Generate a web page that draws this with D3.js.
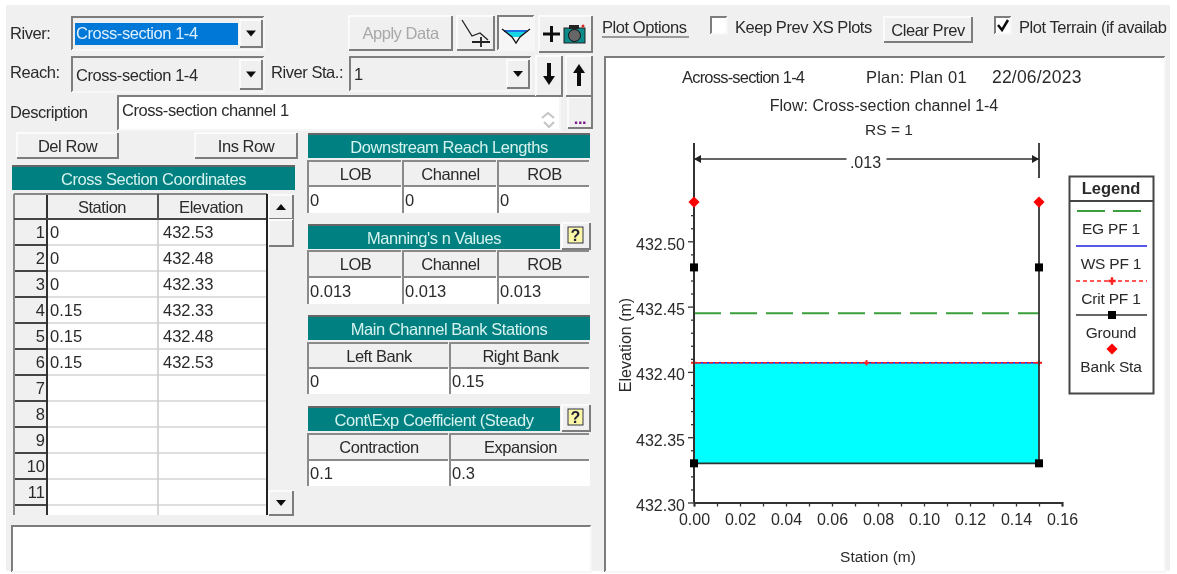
<!DOCTYPE html>
<html>
<head>
<meta charset="utf-8">
<script src="https://cdnjs.cloudflare.com/ajax/libs/d3/7.8.5/d3.min.js"></script>
<style>
body { margin: 0; background: #fff; overflow: hidden; }
text { font-family: "Liberation Sans", Arial, sans-serif; fill: #2a2a2a; }
</style>
</head>
<body>
<svg id="chart" width="1177" height="574"></svg>
<script>
// values
var station = [0, 0, 0, 0.15, 0.15, 0.15];
var elevation = [432.53, 432.48, 432.33, 432.33, 432.48, 432.53];
var rowNumbers = [1, 2, 3, 4, 5, 6, 7, 8, 9, 10, 11];
var bankStations = [0, 0.15];
var bankElevation = 432.53;
var egLevel = 432.445;
var wsLevel = 432.407;
var critLevel = 432.407;
var critMarks = [0, 0.075, 0.15];
var xTicks = [0, 0.02, 0.04, 0.06, 0.08, 0.1, 0.12, 0.14, 0.16];
var yTicks = [432.30, 432.35, 432.40, 432.45, 432.50];
var legendNames = ["EG PF 1", "WS PF 1", "Crit PF 1", "Ground", "Bank Sta"];
var nValue = ".013";

var svg = d3.select("#chart");
var defs = svg.append("defs");
defs.append("filter").attr("id", "soft").append("feGaussianBlur").attr("stdDeviation", 0.4);
defs.append("clipPath").attr("id", "clipWin").append("rect")
    .attr("x", 0).attr("y", 0).attr("width", 1170).attr("height", 574);
defs.append("clipPath").attr("id", "clipTable").append("rect")
    .attr("x", 12).attr("y", 190).attr("width", 284).attr("height", 325);

var root = svg.append("g").attr("filter", "url(#soft)");

root.append("rect").attr("x", 6).attr("y", 5).attr("width", 1164).attr("height", 566).attr("fill", "#f0f0f0");

// --- little widget helpers
function label(g, x, y, s, opt) {
    opt = opt || {};
    return g.append("text").attr("x", x).attr("y", y)
        .attr("dominant-baseline", "central")
        .attr("text-anchor", opt.anchor || "start")
        .attr("font-size", opt.size || 16.5)
        .attr("letter-spacing", opt.spacing === undefined ? -0.45 : opt.spacing)
        .attr("transform", opt.rotate ? "rotate(" + opt.rotate + "," + x + "," + y + ")" : null)
        .style("fill", opt.color || "#2a2a2a")
        .style("font-weight", opt.bold ? "bold" : null)
        .text(s);
}
function edges(g, x0, y0, x1, y1, light, dark, w) {
    g.append("path").attr("fill", "none").attr("stroke", light).attr("stroke-width", w)
        .attr("d", "M" + x0 + "," + y1 + "V" + y0 + "H" + x1);
    g.append("path").attr("fill", "none").attr("stroke", dark).attr("stroke-width", w)
        .attr("d", "M" + x0 + "," + y1 + "H" + x1 + "V" + y0);
}
function button(g, x0, y0, x1, y1, s, color) {
    g.append("rect").attr("x", x0).attr("y", y0).attr("width", x1 - x0).attr("height", y1 - y0).attr("fill", "#f0f0f0");
    edges(g, x0, y0, x1, y1, "#fbfbfb", "#7d7d7d", 2);
    if (s) label(g, (x0 + x1) / 2, (y0 + y1) / 2, s, { anchor: "middle", color: color });
}
function sunken(g, x0, y0, x1, y1, fill) {
    g.append("rect").attr("x", x0).attr("y", y0).attr("width", x1 - x0).attr("height", y1 - y0).attr("fill", fill || "#fff");
    edges(g, x0, y0, x1, y1, "#7d7d7d", "#f6f6f6", 2);
}
function arrowDown(g, cx, cy) {
    g.append("path").attr("d", "M" + (cx - 5) + "," + (cy - 3) + "h10l-5,6z").attr("fill", "#111");
}
function arrowUp(g, cx, cy) {
    g.append("path").attr("d", "M" + (cx - 5) + "," + (cy + 3) + "h10l-5,-6z").attr("fill", "#111");
}
function combo(g, x0, y0, x1, y1, s) {
    sunken(g, x0, y0, x1, y1, "#f0f0f0");
    button(g, x1 - 24, y0 + 3, x1 - 2, y1 - 3);
    arrowDown(g, x1 - 13, (y0 + y1) / 2);
    label(g, x0 + 4, (y0 + y1) / 2, s);
}
function tealHeader(g, x0, y0, x1, y1, s) {
    g.append("rect").attr("x", x0).attr("y", y0).attr("width", x1 - x0).attr("height", y1 - y0).attr("fill", "#008080");
    g.append("path").attr("d", "M" + x0 + "," + y0 + "H" + x1).attr("stroke", "#666").attr("stroke-width", 2);
    label(g, (x0 + x1) / 2, (y0 + y1) / 2 + 1, s, { anchor: "middle", color: "#d6f3ef" });
}
function helpButton(g, x0, y0) {
    button(g, x0, y0, x0 + 28, y0 + 26);
    g.append("rect").attr("x", x0 + 6).attr("y", y0 + 4).attr("width", 15).attr("height", 16)
        .attr("fill", "#fbf7a8").attr("stroke", "#334").attr("stroke-width", 1);
    label(g, x0 + 13.5, y0 + 12, "?", { anchor: "middle", size: 16, bold: true, color: "#223", spacing: 0 });
}
function cellGrid(g, columns, yHead0, yHead1, yCell1, heads, values) {
    heads.forEach(function(h, i) {
        var x0 = columns[i], x1 = columns[i + 1];
        g.append("rect").attr("x", x0).attr("y", yHead0).attr("width", x1 - x0 - 1).attr("height", yHead1 - yHead0).attr("fill", "#f0f0f0");
        g.append("path").attr("d", "M" + x0 + "," + yHead1 + "V" + yHead0 + "H" + (x1 - 2)).attr("fill", "none").attr("stroke", "#8a8a8a").attr("stroke-width", 2);
        label(g, (x0 + x1) / 2, (yHead0 + yHead1) / 2, h, { anchor: "middle" });
        g.append("rect").attr("x", x0).attr("y", yHead1).attr("width", x1 - x0 - 1).attr("height", yCell1 - yHead1).attr("fill", "#fff");
        g.append("path").attr("d", "M" + x0 + "," + yCell1 + "V" + yHead1 + "H" + (x1 - 2)).attr("fill", "none").attr("stroke", "#8a8a8a").attr("stroke-width", 2);
        label(g, x0 + 2, (yHead1 + yCell1) / 2, values[i], { spacing: 0 });
    });
}

// --- top left controls
var form = root.append("g");
label(form, 10, 33, "River:");
combo(form, 72, 17, 264, 50, "");
form.append("rect").attr("x", 75).attr("y", 23).attr("width", 163).attr("height", 22).attr("fill", "#0078d7");
label(form, 76, 33, "Cross-section 1-4", { color: "#dff0ff" });
label(form, 10, 72, "Reach:");
combo(form, 72, 57, 264, 92, "Cross-section 1-4");
label(form, 271, 72, "River Sta.:");
combo(form, 350, 57, 531, 91, "1");
label(form, 10, 112, "Description");
sunken(form, 118, 96, 560, 130);
label(form, 122, 110, "Cross-section channel 1");
form.append("path").attr("d", "M542,118l6,-5l6,5").attr("fill", "none").attr("stroke", "#c4c4c4").attr("stroke-width", 2);
form.append("path").attr("d", "M544,122l5,5l5,-5").attr("fill", "none").attr("stroke", "#c4c4c4").attr("stroke-width", 2);
button(form, 568, 97, 592, 128);
label(form, 580, 118, "...", { anchor: "middle", color: "#7a1a8a", bold: true });

button(form, 349, 16, 452, 50, "Apply Data", "#a8a8a8");
button(form, 457, 16, 494, 50);
form.append("path").attr("d", "M462,20L472,36L480,33L488,40").attr("fill", "none").attr("stroke", "#222").attr("stroke-width", 1.3);
form.append("path").attr("d", "M472,42H490M481,37V47").attr("stroke", "#222").attr("stroke-width", 1.8);
sunken(form, 498, 16, 534, 50, "#f6f6f6");
form.append("path").attr("d", "M504,31H527").attr("stroke", "#1f6fe0").attr("stroke-width", 2);
form.append("path").attr("d", "M505,32H526L519,37L513,37Z").attr("fill", "#16d6e6");
form.append("path").attr("d", "M502,29L512,37L516,43L520,37L530,29").attr("fill", "none").attr("stroke", "#111").attr("stroke-width", 1.3);
button(form, 539, 16, 592, 52);
form.append("path").attr("d", "M543,34H560M551.5,26V42").attr("stroke", "#111").attr("stroke-width", 3);
form.append("rect").attr("x", 564).attr("y", 28).attr("width", 21).attr("height", 15).attr("fill", "#0d8a8a").attr("stroke", "#222");
form.append("rect").attr("x", 569).attr("y", 25).attr("width", 10).attr("height", 4).attr("fill", "#222");
form.append("circle").attr("cx", 574.5).attr("cy", 35.5).attr("r", 6).attr("fill", "#666").attr("stroke", "#111");
form.append("circle").attr("cx", 583).attr("cy", 26).attr("r", 1.5).attr("fill", "#e02020");
button(form, 536, 56, 562, 96);
form.append("path").attr("d", "M549,63V80").attr("stroke", "#111").attr("stroke-width", 4);
form.append("path").attr("d", "M543,76H555L549,85Z").attr("fill", "#111");
button(form, 566, 56, 592, 96);
form.append("path").attr("d", "M579,86V69").attr("stroke", "#111").attr("stroke-width", 4);
form.append("path").attr("d", "M573,73H585L579,64Z").attr("fill", "#111");

button(form, 17, 133, 118, 158, "Del Row");
button(form, 195, 133, 297, 158, "Ins Row");

// --- coordinates table
tealHeader(form, 12, 166, 295, 190, "Cross Section Coordinates");
var tableG = form.append("g").attr("clip-path", "url(#clipTable)");
var rowH = 26, rowTop = 220;
var colX = [14, 47, 158, 267];
tableG.append("rect").attr("x", colX[0]).attr("y", 194).attr("width", colX[3] - colX[0]).attr("height", 322).attr("fill", "#fff");
tableG.append("rect").attr("x", colX[0]).attr("y", 194).attr("width", colX[3] - colX[0]).attr("height", 25).attr("fill", "#f0f0f0");
tableG.append("rect").attr("x", colX[0]).attr("y", 194).attr("width", colX[1] - colX[0]).attr("height", 322).attr("fill", "#f0f0f0");

var gridY = d3.range(0, 12).map(function(i) { return rowTop + i * rowH; });
tableG.selectAll("path.gridrow").data(gridY).enter().append("path").attr("class", "gridrow")
    .attr("d", function(y) { return "M47," + (y - 1) + "H267"; })
    .attr("stroke", "#d4d4d4").attr("stroke-width", 1.5);
tableG.selectAll("path.headrow").data(gridY).enter().append("path").attr("class", "headrow")
    .attr("d", function(y) { return "M14," + (y - 1) + "H47"; })
    .attr("stroke", "#444").attr("stroke-width", 2);
tableG.append("path").attr("d", "M158,194V516").attr("stroke", "#c8c8c8").attr("stroke-width", 1.5);
tableG.append("path").attr("d", "M47,194V516").attr("stroke", "#333").attr("stroke-width", 2);
tableG.append("path").attr("d", "M14,194V516").attr("stroke", "#8a8a8a").attr("stroke-width", 2);
tableG.append("path").attr("d", "M14,194H267").attr("stroke", "#888").attr("stroke-width", 2);
tableG.append("path").attr("d", "M14,219H267").attr("stroke", "#444").attr("stroke-width", 2);
tableG.append("path").attr("d", "M158,194V219").attr("stroke", "#555").attr("stroke-width", 2);
tableG.append("path").attr("d", "M267,194V516").attr("stroke", "#222").attr("stroke-width", 2);
label(tableG, 102, 207, "Station", { anchor: "middle" });
label(tableG, 211, 207, "Elevation", { anchor: "middle" });

tableG.selectAll("text.rowno").data(rowNumbers).enter().append("text").attr("class", "rowno")
    .attr("x", 45).attr("y", function(d, i) { return rowTop + i * rowH + 12; })
    .attr("text-anchor", "end").attr("dominant-baseline", "central").attr("font-size", 16.5)
    .text(function(d) { return d; });
tableG.selectAll("text.sta").data(station).enter().append("text").attr("class", "sta")
    .attr("x", 50).attr("y", function(d, i) { return rowTop + i * rowH + 12; })
    .attr("dominant-baseline", "central").attr("font-size", 16.5)
    .text(function(d) { return d; });
tableG.selectAll("text.elev").data(elevation).enter().append("text").attr("class", "elev")
    .attr("x", 163).attr("y", function(d, i) { return rowTop + i * rowH + 12; })
    .attr("dominant-baseline", "central").attr("font-size", 16.5)
    .text(function(d) { return d.toFixed(2); });

form.append("rect").attr("x", 268).attr("y", 194).attr("width", 27).attr("height", 322).attr("fill", "#f0f0f0");
button(form, 269, 195, 293, 219);
arrowUp(form, 281, 207);
button(form, 269, 220, 293, 246);
button(form, 269, 491, 293, 515);
arrowDown(form, 281, 503);

// --- right hand blocks
var threeCols = [308, 403, 498, 591];
var twoCols = [308, 450, 591];
tealHeader(form, 308, 134, 590, 158, "Downstream Reach Lengths");
cellGrid(form, threeCols, 161, 186, 213, ["LOB", "Channel", "ROB"], ["0", "0", "0"]);
tealHeader(form, 308, 225, 560, 249, "Manning's n Values");
helpButton(form, 562, 223);
cellGrid(form, threeCols, 251, 277, 304, ["LOB", "Channel", "ROB"], ["0.013", "0.013", "0.013"]);
tealHeader(form, 308, 316, 590, 340, "Main Channel Bank Stations");
cellGrid(form, twoCols, 343, 368, 394, ["Left Bank", "Right Bank"], ["0", "0.15"]);
tealHeader(form, 308, 407, 560, 431, "Cont\\Exp Coefficient (Steady");
helpButton(form, 562, 405);
cellGrid(form, twoCols, 434, 460, 486, ["Contraction", "Expansion"], ["0.1", "0.3"]);

sunken(form, 12, 526, 591, 572);

// --- plot options row
var opts = root.append("g").attr("clip-path", "url(#clipWin)");
label(opts, 602, 27, "Plot Options");
opts.append("path").attr("d", "M602,37H689").attr("stroke", "#444").attr("stroke-width", 1);
sunken(opts, 711, 17, 727, 34);
label(opts, 735, 27, "Keep Prev XS Plots");
button(opts, 884, 17, 972, 42, "Clear Prev");
sunken(opts, 995, 17, 1011, 34);
opts.append("path").attr("d", "M998,25L1002,30L1008,20").attr("fill", "none").attr("stroke", "#111").attr("stroke-width", 2.5);
label(opts, 1019, 27, "Plot Terrain (if availab");

// --- the plot
sunken(root, 605, 57, 1165, 572);

var x = d3.scaleLinear().domain([0, 0.16]).range([694, 1062]);
var y = d3.scaleLinear().domain([432.30, 432.50]).range([502.5, 241.3]);
var plot = root.append("g");

label(plot, 682, 77, "Across-section 1-4", { size: 16.5, spacing: -0.8 });
label(plot, 866, 77, "Plan: Plan 01", { size: 16.5, spacing: 0.2 });
label(plot, 992, 77, "22/06/2023", { size: 17.5, spacing: 0.2 });
label(plot, 884, 105, "Flow: Cross-section channel 1-4", { anchor: "middle", size: 16, spacing: 0 });
label(plot, 889, 129, "RS = 1", { anchor: "middle", size: 15.5, spacing: 0 });

// water fill between the channel floor and the water surface
var floorSection = station.map(function(s, i) { return { s: s, e: elevation[i] }; }).slice(2, 4);
plot.append("path").datum(floorSection)
    .attr("fill", "#00ffff")
    .attr("d", d3.area().x(function(d) { return x(d.s); }).y0(function(d) { return y(d.e); }).y1(y(wsLevel)));

// axes
var isLabelled = function(list, d) { return list.some(function(t) { return Math.abs(t - d) < 1e-6; }); };
var xAxis = d3.axisBottom(x).tickValues(d3.range(0, 17).map(function(i) { return i / 100; }))
    .tickSizeOuter(0).tickSize(4)
    .tickFormat(function(d) { return isLabelled(xTicks, d) ? d.toFixed(2) : ""; });
var xG = plot.append("g").attr("transform", "translate(0," + y(432.30) + ")").call(xAxis);
xG.select(".domain").attr("stroke", "#333").attr("stroke-width", 2);
xG.selectAll("line").attr("stroke", "#333").attr("stroke-width", 1.3);
xG.selectAll("text").attr("font-size", 16).attr("y", 8.5).attr("dy", "0.85em").style("font-family", "Liberation Sans");

var yAxis = d3.axisLeft(y).tickValues(d3.range(0, 24).map(function(i) { return 432.30 + i / 100; }))
    .tickSizeOuter(0).tickSize(3)
    .tickFormat(function(d) { return isLabelled(yTicks, d) ? d.toFixed(2) : ""; });
var yG = plot.append("g").attr("transform", "translate(" + x(0) + ",0)").call(yAxis);
yG.select(".domain").remove();
yG.selectAll(".tick").filter(function(d) { return isLabelled(yTicks, d); }).select("line").attr("x2", -6);
yG.selectAll("line").attr("stroke", "#333").attr("stroke-width", 1.3);
yG.selectAll("text").attr("font-size", 16).attr("x", -9).attr("dy", "0.5em").style("font-family", "Liberation Sans");

label(plot, 625, 345, "Elevation (m)", { anchor: "middle", size: 16, rotate: -90, spacing: 0 });
label(plot, 878, 556, "Station (m)", { anchor: "middle", size: 15.5, spacing: 0 });

// n value span above the section
var spanTop = 143, spanY = 159;
plot.append("path").attr("d", "M" + x(0) + "," + spanTop + "V" + y(432.30)).attr("stroke", "#333").attr("stroke-width", 2);
plot.append("path").attr("d", "M" + x(0.15) + "," + spanTop + "V" + (spanTop + 35)).attr("stroke", "#333").attr("stroke-width", 1.8);
plot.append("path").attr("d", "M" + x(0) + "," + spanY + "H" + (x(0.075) - 20) + "M" + (x(0.075) + 20) + "," + spanY + "H" + x(0.15))
    .attr("stroke", "#333").attr("stroke-width", 1.5).attr("fill", "none");
plot.append("path").attr("d", "M" + x(0) + "," + spanY + "l7,-4v8z").attr("fill", "#222");
plot.append("path").attr("d", "M" + x(0.15) + "," + spanY + "l-7,-4v8z").attr("fill", "#222");
label(plot, x(0.075) - 1, 162, nValue, { anchor: "middle", size: 16, spacing: 0 });

// energy grade and water surface
plot.append("path").attr("d", "M" + x(0) + "," + y(egLevel) + "H" + x(0.15))
    .attr("stroke", "#3a9f3a").attr("stroke-width", 2).attr("stroke-dasharray", "27,9");
plot.append("path").attr("d", "M" + x(0) + "," + y(wsLevel) + "H" + x(0.15))
    .attr("stroke", "#2020e0").attr("stroke-width", 1.5);
plot.append("path").attr("d", "M" + (x(0) - 3) + "," + y(critLevel) + "H" + (x(0.15) + 3))
    .attr("stroke", "#ff2020").attr("stroke-width", 1.5).attr("stroke-dasharray", "4,2");
plot.selectAll("path.critmark").data(critMarks).enter().append("path").attr("class", "critmark")
    .attr("d", d3.symbol(d3.symbolCross, 18))
    .attr("transform", function(d) { return "translate(" + x(d) + "," + y(critLevel) + ")"; })
    .attr("fill", "#ff2020");

// ground line and markers
var ground = d3.line().x(function(d) { return x(d.s); }).y(function(d) { return y(d.e); });
var groundPts = station.map(function(s, i) { return { s: s, e: elevation[i] }; });
plot.append("path").datum(groundPts).attr("d", ground).attr("fill", "none").attr("stroke", "#333").attr("stroke-width", 1.8);
plot.selectAll("rect.gpoint").data(groundPts.filter(function(d) { return d.e < bankElevation; })).enter().append("rect").attr("class", "gpoint")
    .attr("x", function(d) { return x(d.s) - 4; }).attr("y", function(d) { return y(d.e) - 4; })
    .attr("width", 8).attr("height", 8).attr("fill", "#000");
plot.selectAll("path.bank").data(bankStations).enter().append("path").attr("class", "bank")
    .attr("d", d3.symbol(d3.symbolSquare, 62))
    .attr("transform", function(d) { return "translate(" + x(d) + "," + y(bankElevation) + ") rotate(45)"; })
    .attr("fill", "#ff0000");

// --- legend
var legend = plot.append("g");
legend.append("rect").attr("x", 1069.5).attr("y", 176.5).attr("width", 84).attr("height", 217)
    .attr("fill", "#fff").attr("stroke", "#444").attr("stroke-width", 2);
legend.append("path").attr("d", "M1069,201H1154").attr("stroke", "#444").attr("stroke-width", 2);
label(legend, 1111, 188, "Legend", { anchor: "middle", size: 16.5, bold: true, spacing: 0 });
var keyY = [211, 246, 281, 315, 349];
legend.selectAll("text.name").data(legendNames).enter().append("text").attr("class", "name")
    .attr("x", 1111).attr("y", function(d, i) { return keyY[i] + 17; })
    .attr("text-anchor", "middle").attr("dominant-baseline", "central").attr("font-size", 15.5)
    .attr("letter-spacing", -0.2)
    .text(function(d) { return d; });
legend.append("path").attr("d", "M1077,211H1105M1113,211H1141").attr("stroke", "#3a9f3a").attr("stroke-width", 2);
legend.append("path").attr("d", "M1076,246H1147").attr("stroke", "#2020e0").attr("stroke-width", 1.6);
legend.append("path").attr("d", "M1076,281H1147").attr("stroke", "#ff2020").attr("stroke-width", 1.4).attr("stroke-dasharray", "4,3");
legend.append("path").attr("d", d3.symbol(d3.symbolCross, 30)).attr("transform", "translate(1112,281)").attr("fill", "#ff2020");
legend.append("path").attr("d", "M1076,315H1147").attr("stroke", "#333").attr("stroke-width", 1.6);
legend.append("rect").attr("x", 1108).attr("y", 311).attr("width", 8).attr("height", 8).attr("fill", "#000");
legend.append("path").attr("d", d3.symbol(d3.symbolSquare, 62)).attr("transform", "translate(1112,349) rotate(45)").attr("fill", "#ff0000");
</script>
</body>
</html>
